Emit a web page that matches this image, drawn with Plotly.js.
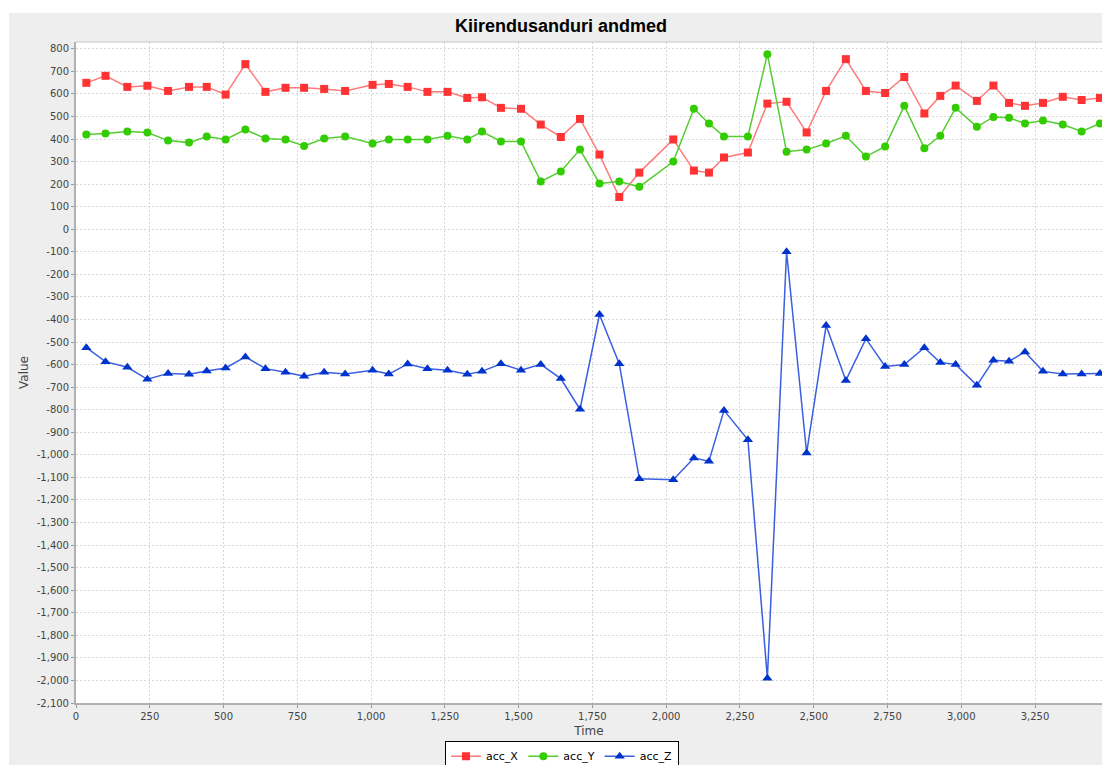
<!DOCTYPE html>
<html>
<head>
<meta charset="utf-8">
<script src="https://cdn.plot.ly/plotly-3.0.1.min.js"></script>
<style>
  html, body { margin: 0; padding: 0; background: #fff; }
  #plot { width: 1102px; height: 765px; }
</style>
</head>
<body>
<div id="plot"></div>
<script>
// time stamps (ms)
var time = [35, 100, 174, 242, 312, 383, 443, 507, 574, 642, 710, 773, 841, 912, 1005, 1060, 1124,
  1191, 1259, 1326, 1376, 1440, 1508, 1575, 1643, 1708, 1774, 1841, 1909, 2024, 2094, 2145, 2196,
  2277, 2343, 2408, 2476, 2542, 2609, 2677, 2742, 2807, 2875, 2929, 2981, 3053, 3109, 3162, 3216,
  3277, 3344, 3408, 3470];

var accX = [649, 680, 631, 636, 613, 631, 631, 597, 732, 609, 627, 627, 622, 613, 640, 644, 631,
  609, 609, 582, 585, 538, 534, 464, 409, 489, 331, 143, 251, 398, 260, 251, 318,
  340, 557, 565, 429, 613, 754, 613, 604, 675, 513, 591, 637, 569, 637, 560, 547,
  560, 587, 573, 582];

var accY = [420, 424, 433, 429, 393, 384, 411, 398, 442, 402, 398, 369, 402, 411, 380, 398, 398,
  398, 414, 398, 433, 389, 389, 212, 256, 353, 203, 212, 188, 300, 534, 469, 411,
  411, 776, 344, 353, 380, 414, 322, 367, 547, 359, 414, 538, 454, 498, 494, 469,
  482, 464, 433, 469];

var accZ = [-525, -587, -612, -665, -639, -643, -628, -615, -566, -618, -634, -652, -634, -642, -625, -642, -597,
  -618, -625, -643, -630, -596, -625, -599, -662, -798, -378, -596, -1106, -1110, -1014, -1028, -803,
  -933, -1990, -100, -992, -427, -670, -485, -608, -600, -525, -591, -599, -692, -581, -585, -544,
  -630, -642, -642, -639];

// y tick values, labels use a plain hyphen like the original
var yTicks = [];
for (var v = -2100; v <= 800; v += 100) yTicks.push(v);
var yLabels = yTicks.map(function (t) { return t.toLocaleString('en-US'); });

var xTicks = [0, 250, 500, 750, 1000, 1250, 1500, 1750, 2000, 2250, 2500, 2750, 3000, 3250];
var xLabels = xTicks.map(function (t) { return t.toLocaleString('en-US'); });

var trace1 = {
  x: time, y: accX, name: 'acc_X', type: 'scatter', mode: 'lines+markers',
  line: {color: '#ff7a7a', width: 1.5},
  marker: {symbol: 'square', size: 8, color: '#ff3333'}
};
var trace2 = {
  x: time, y: accY, name: 'acc_Y', type: 'scatter', mode: 'lines+markers',
  line: {color: '#55cc33', width: 1.5},
  marker: {symbol: 'circle', size: 8, color: '#33cc00'}
};
var trace3 = {
  x: time, y: accZ, name: 'acc_Z', type: 'scatter', mode: 'lines+markers',
  line: {color: '#3a5fe0', width: 1.5},
  marker: {symbol: 'triangle-up', size: 9, color: '#0033cc'}
};

var data = [trace1, trace2, trace3];

var grid = '#d6d6d6';
var tickFont = {family: 'DejaVu Sans, sans-serif', size: 10, color: '#444'};

var layout = {
  width: 1102, height: 765,
  margin: {l: 76, r: 0, t: 42, b: 62, autoexpand: false},
  paper_bgcolor: '#ffffff',
  plot_bgcolor: '#ffffff',
  showlegend: true,
  title: {
    text: 'Kiirendusanduri andmed',
    font: {family: 'Liberation Sans, Arial, sans-serif', size: 18, color: '#000', weight: 'bold'},
    xref: 'container', yref: 'container', x: 0.509, y: 0.967, xanchor: 'center', yanchor: 'middle'
  },
  xaxis: {
    title: {text: 'Time', font: {family: 'DejaVu Sans, sans-serif', size: 12, color: '#444'}, standoff: 6},
    range: [0, 3477],
    tickvals: xTicks, ticktext: xLabels,
    tickfont: tickFont,
    ticks: 'outside', ticklen: 3, tickcolor: '#999',
    showgrid: true, gridcolor: grid, griddash: '2px,2px', gridwidth: 1,
    showline: true, linecolor: '#b0b0b0', linewidth: 2, mirror: false,
    zeroline: false
  },
  yaxis: {
    title: {text: 'Value', font: {family: 'DejaVu Sans, sans-serif', size: 12, color: '#444'}, standoff: 6},
    range: [-2100, 830],
    tickvals: yTicks, ticktext: yLabels,
    tickfont: tickFont,
    ticks: 'outside', ticklen: 3, tickcolor: '#999',
    showgrid: true, gridcolor: grid, griddash: '2px,2px', gridwidth: 1,
    showline: true, linecolor: '#b0b0b0', linewidth: 2,
    zeroline: false
  },
  legend: {
    orientation: 'h', x: 0.4737, y: -0.057, xanchor: 'center', yanchor: 'top',
    bgcolor: '#ffffff', bordercolor: '#000', borderwidth: 1,
    font: {family: 'DejaVu Sans, sans-serif', size: 11, color: '#000'},
    itemwidth: 30, tracegroupgap: 0
  },
  shapes: [
    // gray chart panel
    {type: 'rect', xref: 'paper', yref: 'paper', x0: -0.0653, x1: 1.05, y0: -0.12, y1: 1.0439,
      fillcolor: '#eeeeee', line: {width: 0}, layer: 'below'},
    // white plot area on top of the panel
    {type: 'rect', xref: 'paper', yref: 'paper', x0: 0, x1: 1, y0: 0, y1: 1,
      fillcolor: '#ffffff', line: {width: 0}, layer: 'below'},
    // thin top border of the plot area
    {type: 'line', xref: 'paper', yref: 'paper', x0: 0, x1: 1, y0: 1, y1: 1,
      line: {color: '#c8c8c8', width: 1}}
  ]
};

Plotly.newPlot('plot', data, layout, {displayModeBar: false});
</script>
</body>
</html>
